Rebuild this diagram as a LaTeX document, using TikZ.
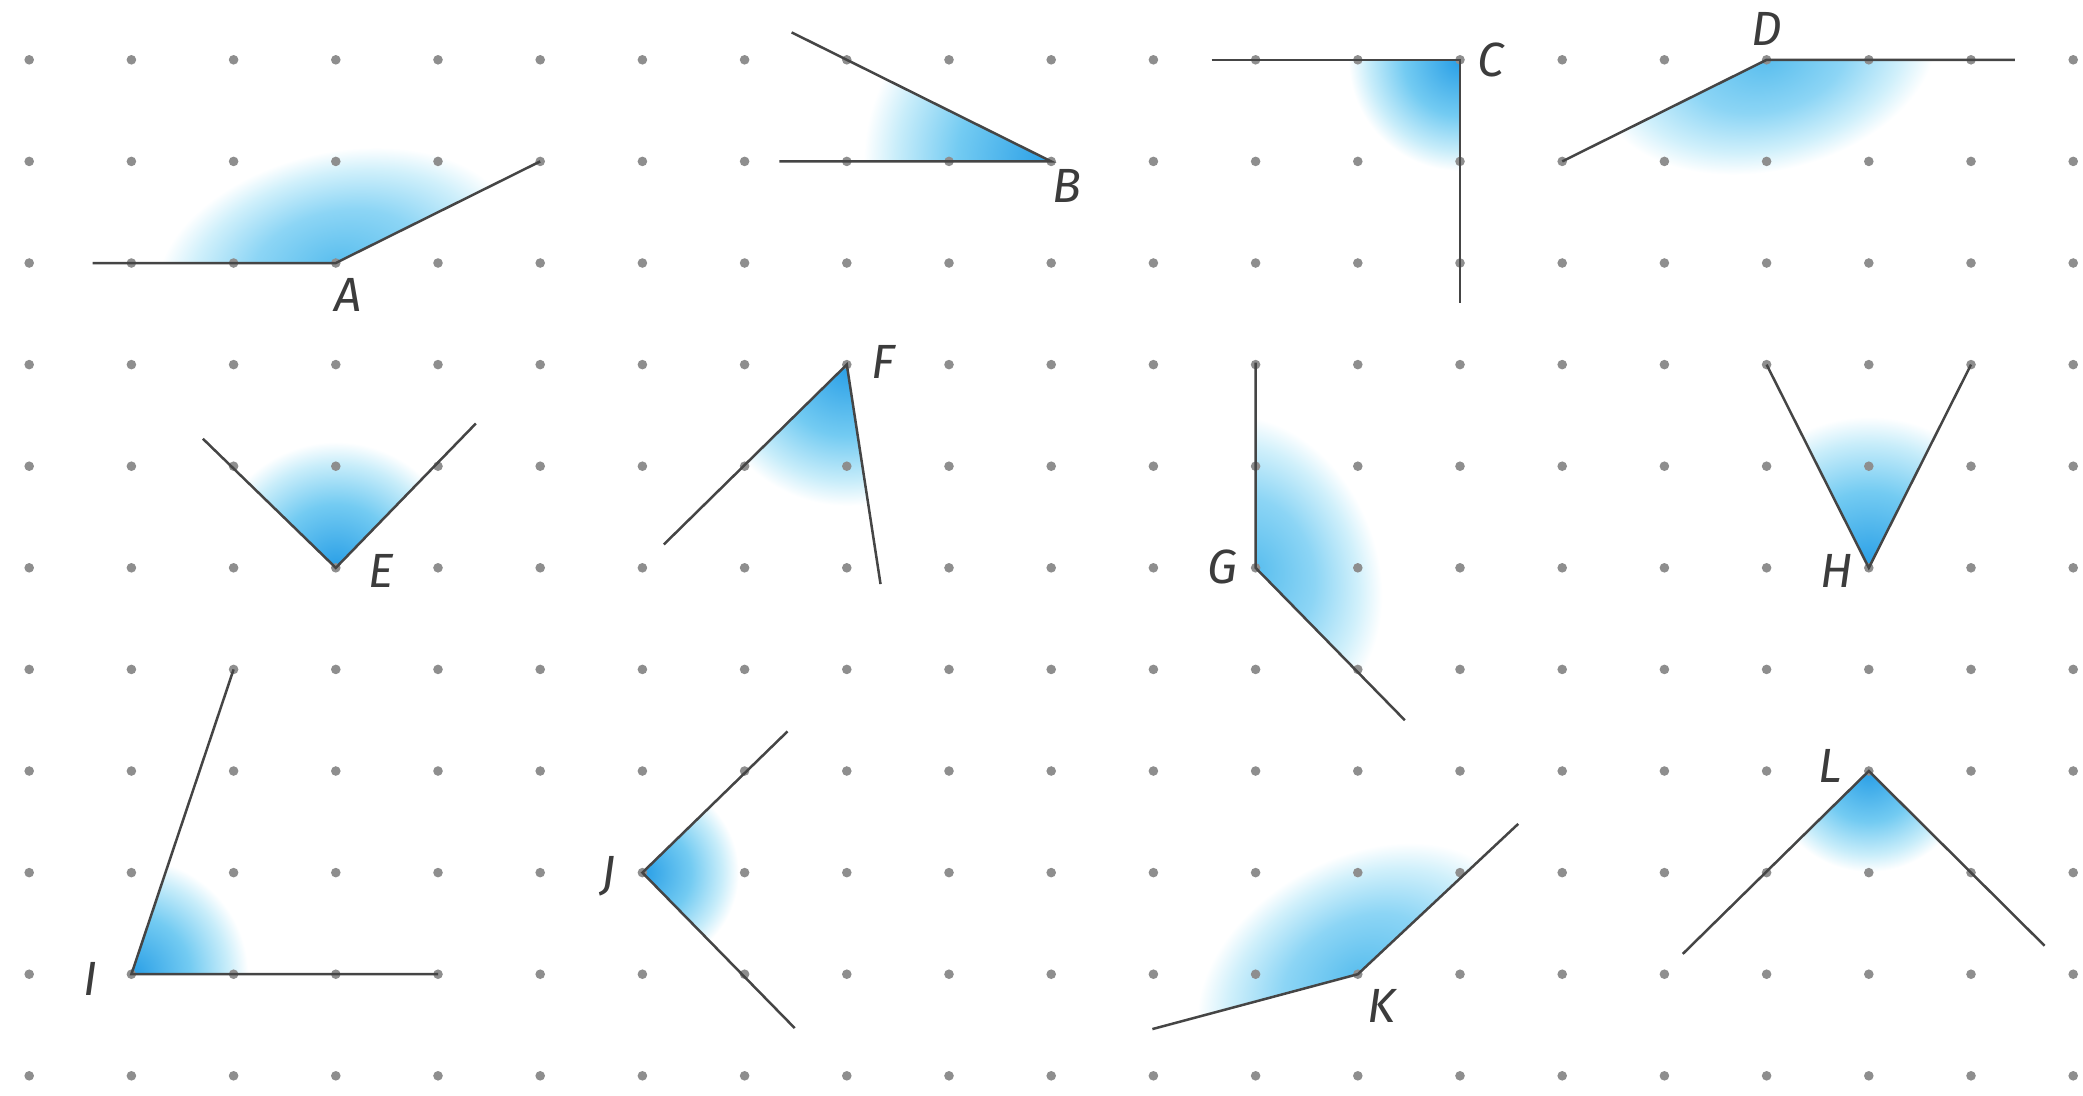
\documentclass[tikz,border=0pt]{standalone}
\usepackage{fontspec}
\setmainfont{Fira Sans}
\usetikzlibrary{calc}
\definecolor{dotgray}{HTML}{8E8E8E}
\definecolor{raycol}{HTML}{454545}
\definecolor{labcol}{HTML}{3C3C3C}
\definecolor{sA}{RGB}{40,158,230}
\definecolor{sB}{RGB}{115,203,242}
\definecolor{sC}{RGB}{200,237,250}
\definecolor{wA}{RGB}{90,190,238}
\definecolor{wB}{RGB}{140,213,245}
\definecolor{wC}{RGB}{208,240,251}
\pgfdeclareradialshading{angfadestrong}{\pgfpoint{0bp}{0bp}}{color(0bp)=(sA); color(12.5bp)=(sB); color(20.5bp)=(sC); color(24.8bp)=(white); color(50bp)=(white)}
\pgfdeclareradialshading{angfadesoft}{\pgfpoint{0bp}{0bp}}{color(0bp)=(wA); color(11.5bp)=(wB); color(20bp)=(wC); color(24.8bp)=(white); color(50bp)=(white)}
% #1 vertex, #2 #3 ray ends, #4 canvas angle of long axis, #5 long radius, #6 short radius, #7 shading
\newcommand\angfill[7]{%
  \begin{scope}
    \coordinate (pa) at ($(#1)!20cm!(#2)$);
    \coordinate (pb) at ($(#1)!20cm!(#3)$);
    \clip (#1) -- (pa) -- ($(pa)+(pb)-(#1)$) -- (pb) -- cycle;
    \begin{scope}[transform canvas={shift={(#1)}, rotate=#4}]
      \shade[shading=#7] (0,0) ellipse[x radius=#5, y radius=#6];
    \end{scope}
  \end{scope}}
\tikzset{
  ray/.style={draw=raycol, line width=1.25pt},
  lab/.style={text=labcol, font=\fontsize{24}{28}\selectfont\itshape, inner sep=0pt, anchor=center},
  griddot/.style={fill=dotgray}
}
\begin{document}
\begin{tikzpicture}[x=51.1pt, y=-50.8pt]
\useasboundingbox (-0.2857,-0.5886) rectangle (20.096,10.189);
% vertices and ray ends
\coordinate (A) at (3,2);   \coordinate (A1) at (0.62,2);    \coordinate (A2) at (5,1);
\coordinate (B) at (10,1);  \coordinate (B1) at (7.34,1);    \coordinate (B2) at (7.46,-0.27);
\coordinate (C) at (14,0);  \coordinate (C1) at (11.57,0);   \coordinate (C2) at (14,2.39);
\coordinate (D) at (17,0);  \coordinate (D1) at (19.43,0);   \coordinate (D2) at (15,1);
\coordinate (E) at (3,5);   \coordinate (E1) at (1.70,3.73); \coordinate (E2) at (4.37,3.58);
\coordinate (F) at (8,3);   \coordinate (F1) at (6.21,4.77); \coordinate (F2) at (8.33,5.16);
\coordinate (G) at (12,5);  \coordinate (G1) at (12,2.98);   \coordinate (G2) at (13.46,6.5);
\coordinate (H) at (18,5);  \coordinate (H1) at (17,3);      \coordinate (H2) at (19,3);
\coordinate (I) at (1,9);   \coordinate (I1) at (2,6);       \coordinate (I2) at (4,9);
\coordinate (J) at (6,8);   \coordinate (J1) at (7.42,6.61); \coordinate (J2) at (7.49,9.53);
\coordinate (K) at (13,9);  \coordinate (K1) at (10.99,9.54);\coordinate (K2) at (14.57,7.52);
\coordinate (L) at (18,7);  \coordinate (L1) at (16.18,8.8); \coordinate (L2) at (19.72,8.72);
% shading
\angfill{A}{A1}{A2}{13.3}{1.8}{1.1}{angfadesoft}
\angfill{B}{B1}{B2}{0}{1.85}{1.85}{angfadestrong}
\angfill{C}{C1}{C2}{0}{1.1}{1.1}{angfadestrong}
\angfill{D}{D1}{D2}{13.3}{1.7}{1.1}{angfadesoft}
\angfill{E}{E1}{E2}{0}{1.25}{1.25}{angfadestrong}
\angfill{F}{F1}{F2}{0}{1.4}{1.4}{angfadestrong}
\angfill{G}{G1}{G2}{112}{1.55}{1.2}{angfadesoft}
\angfill{H}{H1}{H2}{0}{1.5}{1.5}{angfadestrong}
\angfill{I}{I1}{I2}{0}{1.15}{1.15}{angfadestrong}
\angfill{J}{J1}{J2}{0}{0.95}{0.95}{angfadestrong}
\angfill{K}{K1}{K2}{29.2}{1.7}{1.15}{angfadesoft}
\angfill{L}{L1}{L2}{0}{1.0}{1.0}{angfadestrong}
% dot grid
\foreach \i in {0,...,20}{
  \foreach \j in {0,...,10}{
    \fill[griddot] (\i,\j) circle[radius=2.4pt];
  }
}
% rays
\foreach \v in {A,B,C,D,E,F,G,H,I,J,K,L}{
  \draw[ray, line join=miter] (\v1) -- (\v) -- (\v2);
}
% labels
\node[lab] (labA) at (3.12,2.31) {A};
\node[lab] (labB) at (10.15,1.24) {B};
\node[lab] (labC) at (14.3,0) {C};
\node[lab] (labD) at (17,-0.3) {D};
\node[lab] (labE) at (3.44,5.03) {E};
\node[lab] (labF) at (8.36,2.97) {F};
\node[lab] (labG) at (11.68,4.99) {G};
\node[lab] (labH) at (17.69,5.03) {H};
\node[lab] (labI) at (0.6,9.05) {I};
\node[lab] (labJ) at (5.67,8.04) {J};
\node[lab] (labK) at (13.23,9.31) {K};
\node[lab] (labL) at (17.62,6.95) {L};
\end{tikzpicture}
\end{document}
